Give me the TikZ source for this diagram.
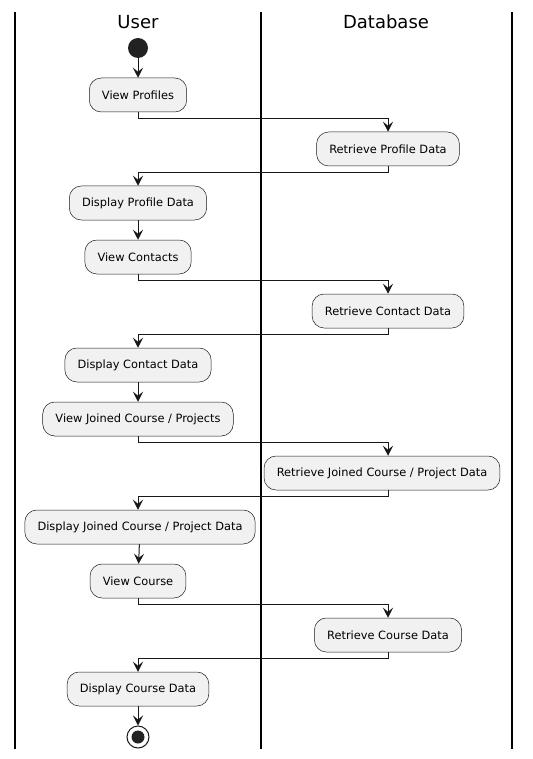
\documentclass[tikz,border=0pt]{standalone}
\usepackage{fontspec}
\setmainfont{DejaVu Sans}
\usetikzlibrary{arrows.meta}
\definecolor{actfill}{HTML}{F1F1F1}
\definecolor{actline}{HTML}{181818}
\definecolor{dotfill}{HTML}{222222}

\begin{document}
\begin{tikzpicture}[x=1pt, y=-1pt,
		act/.style={draw=actline, fill=actfill, line width=0.5pt, rounded corners=12pt,
			minimum height=34pt, inner xsep=12.7pt, font=\fontsize{11.4}{14}\selectfont},
		lane/.style={line width=1.1pt, black},
		arr/.style={line width=1pt, actline, -{Stealth[length=10pt, width=10pt, inset=4pt]}},
		title/.style={font=\fontsize{18}{21}\selectfont}]
	\useasboundingbox (0,0) rectangle (532,759);
	% swimlanes
	\foreach \x in {15, 261, 512}
		\draw[lane] (\x, 12) -- (\x, 749);
	\node[title] (user) at (138, 22) {User};
	\node[title] (db) at (386, 22) {Database};
	% start and end
	\node[circle, fill=dotfill, minimum size=20pt, inner sep=0pt] (start) at (138, 48) {};
	\node[circle, draw=actline, line width=1pt, fill=white, minimum size=22pt, inner sep=0pt] (stop) at (138, 737) {};
	\fill[dotfill] (stop) circle (6.5);
	% actions
	\node[act] (vp) at (138, 95) {View Profiles};
	\node[act] (rpd) at (388, 149) {Retrieve Profile Data};
	\node[act] (dpd) at (138, 203) {Display Profile Data};
	\node[act] (vc) at (138, 257) {View Contacts};
	\node[act] (rcd) at (388, 311) {Retrieve Contact Data};
	\node[act] (dcd) at (138, 365) {Display Contact Data};
	\node[act] (vjc) at (138, 419) {View Joined Course / Projects};
	\node[act] (rjd) at (382, 473) {Retrieve Joined Course / Project Data};
	\node[act] (djd) at (140, 527) {Display Joined Course / Project Data};
	\node[act] (vco) at (138, 581) {View Course};
	\node[act] (rco) at (388, 635) {Retrieve Course Data};
	\node[act] (dco) at (138, 689) {Display Course Data};
	% flow
	\foreach \a/\b in {start/vp, dpd/vc, dcd/vjc, djd/vco, dco/stop}
		\draw[arr] (\a) -- (\b);
	\foreach \a/\b in {vp/rpd, rpd/dpd, vc/rcd, rcd/dcd, vco/rco, rco/dco}
		\draw[arr] (\a.south) -- ++(0,6) -| (\b.north);
	\draw[arr] (vjc.south) -- ++(0,6) -| ([xshift=6pt]rjd.north);
	\draw[arr] ([xshift=6pt]rjd.south) -- ++(0,6) -| ([xshift=-2pt]djd.north);
\end{tikzpicture}
\end{document}
